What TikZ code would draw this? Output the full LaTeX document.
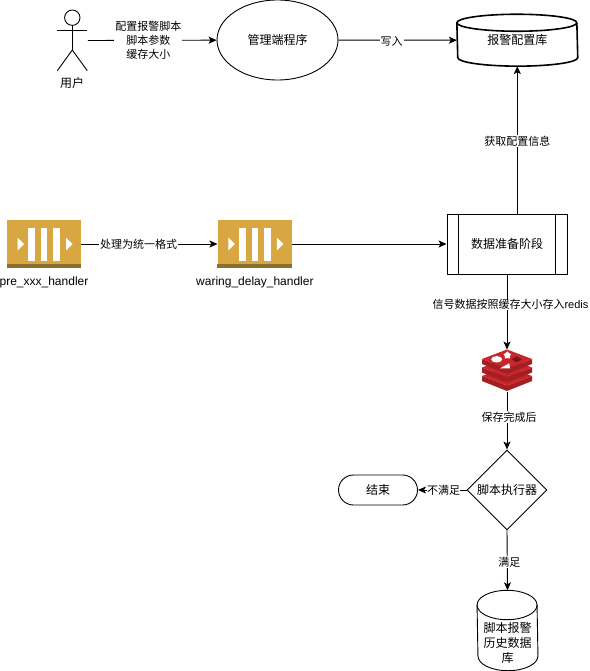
\documentclass[tikz,border=0pt]{standalone}
\usepackage{fontspec}
\setmainfont{Liberation Sans}
\newfontfamily\cjk{Noto Sans CJK SC}
\usepackage{xcolor}
\usetikzlibrary{positioning,shapes.geometric,arrows.meta}
\definecolor{tilegold}{HTML}{D9A741}
\definecolor{tiledark}{HTML}{8C6F2E}
\definecolor{redistop}{HTML}{C9252C}
\definecolor{redisside}{HTML}{A41E22}
\definecolor{redisspot}{HTML}{7A1418}
\newcommand{\nodefont}{\fontsize{12}{15}\selectfont\cjk}
\newcommand{\labelfont}{\fontsize{11}{14}\selectfont\cjk}
% #1 node, #2 half width, #3 depth of the curved ends, #4 line width
\newcommand{\cylbody}[4]{
  \draw[line width=#4] ([yshift=-#3]#1.north west) arc[start angle=180, end angle=0, x radius=#2, y radius=#3]
    -- ([yshift=#3]#1.south east) arc[start angle=0, end angle=-180, x radius=#2, y radius=#3] -- cycle;
  \draw[line width=#4] ([yshift=-#3]#1.north west) arc[start angle=180, end angle=360, x radius=#2, y radius=#3];
}
\begin{document}
\begin{tikzpicture}[
  x=1pt, y=-1pt,
  line width=0.9pt,
  box/.style={draw, align=center, inner sep=0pt, font=\nodefont},
  store/.style={align=center, inner sep=0pt, font=\nodefont},
  tile/.style={fill=tilegold, minimum width=74pt, minimum height=48pt, inner sep=0pt},
  caption/.style={align=center, inner sep=0pt, font=\fontsize{12}{15}\selectfont},
  edgelabel/.style={fill=white, align=center, inner sep=1pt, font=\labelfont},
  arrow/.style={-{Stealth[length=8pt, width=7pt, inset=2pt]}}
]
\useasboundingbox (0,0) rectangle (589,671);

% top row
\node[minimum width=30pt, minimum height=61pt, inner sep=0pt] (user) at (72.3,40.5) {};
\draw (72.3,17.7) circle (7.7);
\draw (72.3,25.4) -- (72.3,50) (57.3,30) -- (87.3,30);
\draw (57.3,70.7) -- (72.3,50) -- (87.3,70.7);
\node[caption, font=\nodefont] (userlabel) at (72,83) {用户};
\node[box, ellipse, minimum width=121pt, minimum height=80pt] (admin) at (277.5,40) {管理端程序};
\node[store, minimum width=120pt, minimum height=51pt] (cfg) at (517.3,40.2) {报警配置库};
\cylbody{cfg}{60pt}{8.5pt}{1.6pt}

% handlers
\node[tile] (pre) at (44,244) {};
\node[tile, right=136pt of pre] (waring) {};
\foreach \t in {pre,waring} {
  \fill[tiledark] (\t.south west) rectangle ([yshift=4pt]\t.south east);
  \foreach \dx in {-12.3,0,12.3}
    \fill[white] ([xshift=\dx-3.4pt,yshift=-16.5pt]\t.center) rectangle ([xshift=\dx+3.4pt,yshift=16.5pt]\t.center);
  \fill[white] ([xshift=-26.5pt,yshift=6.5pt]\t.center) -- ([xshift=-20pt]\t.center) -- ([xshift=-26.5pt,yshift=-6.5pt]\t.center) -- cycle;
  \fill[white] ([xshift=22pt,yshift=6.5pt]\t.center) -- ([xshift=28.5pt]\t.center) -- ([xshift=22pt,yshift=-6.5pt]\t.center) -- cycle;
}
\node[caption, below=7.5pt of pre] (prelabel) {pre\_xxx\_handler};
\node[caption, below=7.5pt of waring] (waringlabel) {waring\_delay\_handler};

% right column
\node[box, minimum width=120pt, minimum height=60pt] (prep) at (507,244) {数据准备阶段};
\draw ([xshift=12pt]prep.north west) -- ([xshift=12pt]prep.south west);
\draw ([xshift=-12pt]prep.north east) -- ([xshift=-12pt]prep.south east);
\node[minimum width=50pt, minimum height=42pt, inner sep=0pt] (redis) at (507,371) {};
\foreach \dy in {5,-3.5,-12} {
  \fill[redisside] ([xshift=-25pt,yshift=-\dy pt]redis.center) -- ([yshift=-\dy-9.5pt]redis.center) -- ([xshift=25pt,yshift=-\dy pt]redis.center) -- ([xshift=25pt,yshift=-\dy-5pt]redis.center) -- ([yshift=-\dy-15pt]redis.center) -- ([xshift=-25pt,yshift=-\dy-5pt]redis.center) -- cycle;
  \fill[redistop] ([xshift=-25pt,yshift=-\dy pt]redis.center) -- ([yshift=-\dy+9.5pt]redis.center) -- ([xshift=25pt,yshift=-\dy pt]redis.center) -- ([yshift=-\dy-9.5pt]redis.center) -- cycle;
}
\fill[white] ([xshift=-10.3pt,yshift=11.7pt]redis.center) ellipse (5.5pt and 3.2pt);
\node[star, star points=5, fill=white, inner sep=0pt, minimum size=8pt] (redisstar) at ([xshift=0.3pt,yshift=15.7pt]redis.center) {};
\fill[white] ([xshift=-7pt,yshift=2.7pt]redis.center) -- ([xshift=2.3pt,yshift=7.7pt]redis.center) -- ([xshift=3pt,yshift=2.7pt]redis.center) -- cycle;
\fill[redisspot] ([xshift=4.7pt,yshift=11.7pt]redis.center) -- ([xshift=9.7pt,yshift=14.7pt]redis.center) -- ([xshift=14.7pt,yshift=11.7pt]redis.center) -- ([xshift=9.7pt,yshift=8.7pt]redis.center) -- cycle;
\node[box, diamond, minimum width=80pt, minimum height=80pt] (runner) at (507,490) {脚本执行器};
\node[box, rounded corners=15pt, minimum width=79pt, minimum height=30pt] (finish) at (378,490) {结束};
\node[store, minimum width=60pt, minimum height=79.5pt] (hist) at (507.5,630.5) {};
\cylbody{hist}{30pt}{14.7pt}{0.9pt}
\node[store] (histlabel) at ([yshift=-12pt]hist.center) {脚本报警\\历史数据\\库};

% connectors
\draw[arrow] (user.east) -- (admin) node[edgelabel, pos=0.47] (userflow) {配置报警脚本\\脚本参数\\缓存大小};
\draw[arrow] (admin) -- (cfg.west) node[edgelabel, midway, xshift=-6pt, yshift=-1pt] (writeflow) {写入};
\draw[arrow] (pre.east) -- (waring.west) node[edgelabel, pos=0.42] (formatflow) {处理为统一格式};
\draw[arrow] (waring.east) -- (prep.west);
\draw[arrow] (prep.north -| cfg.south) -- (cfg.south) node[edgelabel, pos=0.49] (readflow) {获取配置信息};
\draw[arrow] (prep.south) -- (redis.north) node[edgelabel, pos=0.39, inner sep=0pt, xshift=3.5pt, yshift=-1pt] (storeflow) {{\cjk 信号数据按照缓存大小存入}\fontfamily{\rmdefault}\selectfont redis};
\draw[arrow] (redis.south) -- (runner.north) node[edgelabel, midway, xshift=2pt, yshift=4pt] (doneflow) {保存完成后};
\node[edgelabel, inner sep=0pt] (failflow) at (443.5,490) {不满足};
\draw[arrow] (runner.west) -- (failflow.east) (failflow.west) -- (finish.east);
\draw[arrow] (runner.south) -- (hist.north) node[edgelabel, midway, xshift=2pt, yshift=-2pt] (passflow) {满足};
\end{tikzpicture}
\end{document}
